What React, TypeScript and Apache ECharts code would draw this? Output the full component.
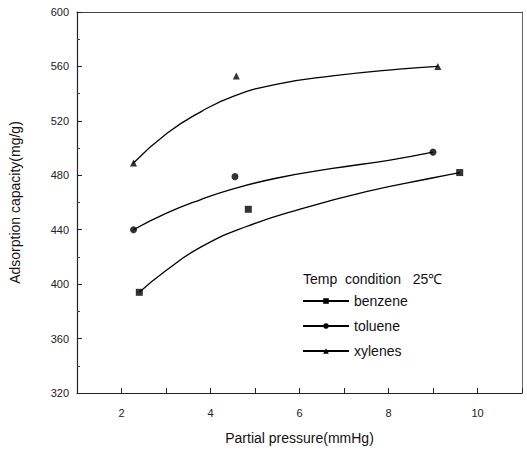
import React, { useEffect, useRef } from "react";
import * as echarts from "echarts";

const seriesNames = ["benzene", "toluene", "xylenes"];
const symbols = ["rect", "circle", "triangle"];

// measured points
const benzenePts = [[2.4, 394], [4.85, 455], [9.6, 482]];
const toluenePts = [[2.27, 440], [4.55, 479], [9.0, 497]];
const xylenesPts = [[2.27, 489], [4.58, 553], [9.11, 560]];

// fitted curves
const benzeneFit = [[2.4, 394], [3.0, 410], [3.77, 427], [4.78, 442], [6.0, 455], [7.5, 468], [8.98, 478], [9.6, 482]];
const tolueneFit = [[2.27, 440], [3.0, 452], [3.77, 462], [4.51, 470], [5.5, 478], [6.74, 485], [8.0, 491], [9.0, 497]];
const xylenesFit = [[2.27, 489], [3.03, 511], [3.8, 527], [4.51, 538], [5.5, 547], [6.74, 553], [8.24, 558], [9.11, 560]];

const xTicks = [2, 4, 6, 8, 10];

const pts = [benzenePts, toluenePts, xylenesPts];
const fits = [benzeneFit, tolueneFit, xylenesFit];

export default function App() {
  const ref = useRef<HTMLDivElement>(null);
  useEffect(() => {
    const chart = echarts.init(ref.current!, null, { renderer: "svg" });
    const font = "Liberation Sans, Arial, sans-serif";
    const series: any[] = [];
    seriesNames.forEach((n, i) => {
      series.push({
        name: n,
        type: "line",
        data: fits[i],
        smooth: 0.5,
        showSymbol: false,
        symbol: symbols[i],
        symbolSize: 7,
        lineStyle: { color: "#000", width: 1.3 },
        itemStyle: { color: "#000" },
      });
      series.push({
        name: n,
        type: "scatter",
        data: pts[i],
        symbol: symbols[i],
        symbolSize: 7,
        itemStyle: { color: "#000" },
      });
    });
    chart.setOption({
      animation: false,
      backgroundColor: "#fff",
      grid: { left: 76, right: 5, top: 12, bottom: 54 },
      xAxis: [
        {
          type: "value",
          min: 1,
          max: 11,
          interval: 1,
          name: "Partial pressure(mmHg)",
          nameLocation: "middle",
          nameGap: 38,
          nameTextStyle: { fontFamily: font, fontSize: 14, color: "#111" },
          axisLine: { lineStyle: { color: "#222", width: 1.2 } },
          axisTick: { inside: true, length: 5, lineStyle: { color: "#222" } },
          axisLabel: {
            fontFamily: font,
            fontSize: 11,
            color: "#222",
            margin: 14,
            formatter: (v: number) => (xTicks.includes(v) ? String(v) : ""),
          },
          splitLine: { show: false },
        },
        {
          type: "value",
          position: "top",
          min: 1,
          max: 11,
          axisLine: { show: true, lineStyle: { color: "#444", width: 1.2 } },
          axisTick: { show: false },
          axisLabel: { show: false },
          splitLine: { show: false },
        },
      ],
      yAxis: [
        {
          type: "value",
          min: 320,
          max: 600,
          interval: 40,
          name: "Adsorption capacity(mg/g)",
          nameLocation: "middle",
          nameGap: 55,
          nameTextStyle: { fontFamily: font, fontSize: 14, color: "#111" },
          axisLine: { show: true, lineStyle: { color: "#222", width: 1.2 } },
          axisTick: { inside: true, length: 5, lineStyle: { color: "#222" } },
          minorTick: { show: true, splitNumber: 2, length: 3, lineStyle: { color: "#444" } },
          axisLabel: { fontFamily: font, fontSize: 11, color: "#222", margin: 8 },
          splitLine: { show: false },
        },
        {
          type: "value",
          position: "right",
          min: 320,
          max: 600,
          axisLine: { show: true, lineStyle: { color: "#666", width: 1 } },
          axisTick: { show: false },
          axisLabel: { show: false },
          splitLine: { show: false },
        },
      ],
      legend: {
        data: seriesNames,
        orient: "vertical",
        left: 297,
        top: 289,
        itemWidth: 46,
        itemHeight: 7,
        itemGap: 11,
        textStyle: { fontFamily: font, fontSize: 14, color: "#111" },
      },
      graphic: [
        {
          type: "text",
          left: 303,
          top: 272,
          style: { text: "Temp  condition   25℃", font: `14px ${font}`, fill: "#111" },
        },
      ],
      series,
    });
    return () => chart.dispose();
  }, []);
  return (
    <div
      ref={ref}
      style={{ position: "fixed", left: 0, top: 0, width: 527, height: 450 }}
    />
  );
}
